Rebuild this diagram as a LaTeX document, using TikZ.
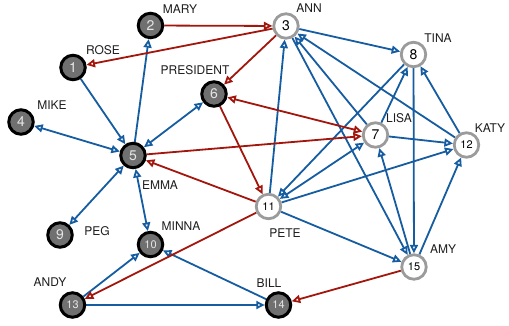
\documentclass[tikz,border=0pt]{standalone}
\usepackage{fontspec}
\setmainfont{TeX Gyre Heros}
\usetikzlibrary{arrows.meta,backgrounds}
\definecolor{eblue}{RGB}{22,92,160}
\definecolor{ered}{RGB}{162,22,12}
\definecolor{dnode}{RGB}{112,112,112}
\definecolor{lborder}{RGB}{155,155,155}
\definecolor{labtext}{RGB}{30,30,30}
\begin{document}
\begin{tikzpicture}[x=1pt,y=-1pt,
  >={Triangle[open,length=8.5pt,width=8pt]},
  dark/.style={circle,draw=black,line width=3pt,fill=dnode,text=white!90!black,
    minimum size=24.5pt,inner sep=0pt,font=\fontsize{14}{14}\selectfont},
  light/.style={circle,draw=lborder,line width=2.8pt,fill=white,text=black,
    minimum size=24.5pt,inner sep=0pt,font=\fontsize{14}{14}\selectfont},
  twodig/.style={font=\fontsize{11}{11}\selectfont},
  lab/.style={font=\fontsize{12}{12}\selectfont,inner sep=0pt,text=labtext},
  be/.style={draw=eblue,line width=1.8pt},
  re/.style={draw=ered,line width=1.8pt}]
\path[use as bounding box] (0,0) rectangle (509,325);
% nodes
\node[dark] (n1) at (73,67.5) {1};
\node[dark] (n2) at (150.5,25.5) {2};
\node[light] (n3) at (286,26) {3};
\node[dark] (n4) at (21,122) {4};
\node[dark] (n5) at (133,155.5) {5};
\node[dark] (n6) at (214,94) {6};
\node[light] (n7) at (375.5,135) {7};
\node[light] (n8) at (413.5,54.5) {8};
\node[dark] (n9) at (60,235) {9};
\node[dark,twodig] (n10) at (150.5,244.5) {10};
\node[light,twodig] (n11) at (268.5,206.5) {11};
\node[light,twodig] (n12) at (466.5,145) {12};
\node[dark,twodig] (n13) at (72.5,305) {13};
\node[dark,twodig] (n14) at (278.5,305) {14};
\node[light,twodig] (n15) at (414,267) {15};
% labels
\node[lab] (l1) at (103,50) {ROSE};
\node[lab] (l2) at (180,9) {MARY};
\node[lab] (l3) at (309,8.5) {ANN};
\node[lab] (l4) at (52,105) {MIKE};
\node[lab] (l5) at (160,185) {EMMA};
\node[lab] (l6) at (195,70) {PRESIDENT};
\node[lab] (l7) at (399,118) {LISA};
\node[lab] (l8) at (438,38) {TINA};
\node[lab] (l9) at (97,231) {PEG};
\node[lab] (l10) at (181,226.5) {MINNA};
\node[lab] (l11) at (285,233) {PETE};
\node[lab] (l12) at (490,128) {KATY};
\node[lab] (l13) at (50,282) {ANDY};
\node[lab] (l14) at (269,283) {BILL};
\node[lab] (l15) at (443,249) {AMY};
% edges
\begin{scope}[on background layer]
  % blue
  \draw[be,->] (n1) -- (n5);
  \draw[be,->] (n5) -- (n2);
  \draw[be,<->] (n4) -- (n5);
  \draw[be,<->] (n5) -- (n6);
  \draw[be,<->] (n5) -- (n9);
  \draw[be,<->] (n5) -- (n10);
  \draw[be,->] (n13) -- (n10);
  \draw[be,->] (n13) -- (n14);
  \draw[be,->] (n14) -- (n10);
  \draw[be,->] (n3) -- (n8);
  \draw[be,->] (n11) -- (n3);
  \draw[be,->] (n7) -- (n3);
  \draw[be,->] (n12) -- (n3);
  \draw[be,->] (n3) -- (n15);
  \draw[be,->] (n15) -- (n7);
  \draw[be,->] (n8) -- (n15);
  \draw[be,->] (n15) -- (n12);
  \draw[be,->] (n11) -- (n15);
  \draw[be,<->] (n11) -- (n7);
  \draw[be,->] (n8) -- (n11);
  \draw[be,->] (n11) -- (n12);
  \draw[be,->] (n7) -- (n8);
  \draw[be,->] (n7) -- (n12);
  \draw[be,->] (n12) -- (n8);
  % red
  \draw[re,->] (n2) -- (n3);
  \draw[re,->] (n3) -- (n1);
  \draw[re,->] (n3) -- (n6);
  \draw[re,<->] (n6) -- (n7);
  \draw[re,->] (n5) -- (n7);
  \draw[re,->] (n6) -- (n11);
  \draw[re,->] (n11) -- (n5);
  \draw[re,->] (n11) -- (n13);
  \draw[re,->] (n15) -- (n14);
\end{scope}
\end{tikzpicture}
\end{document}
